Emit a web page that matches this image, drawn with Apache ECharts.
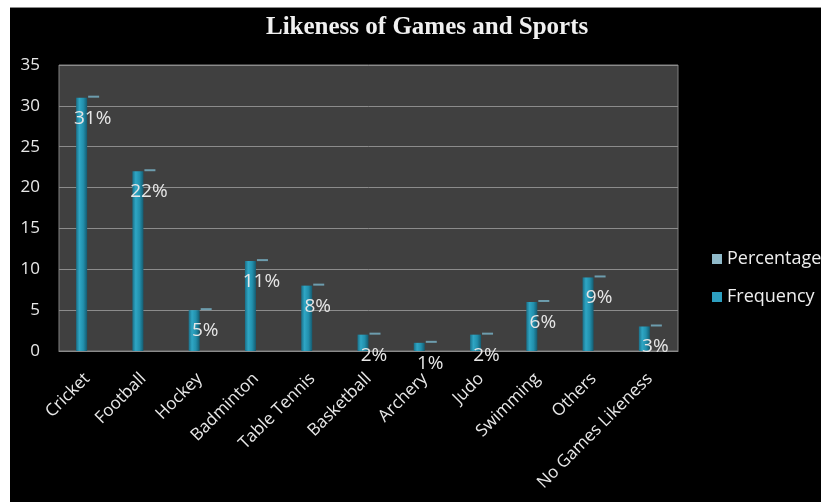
<!DOCTYPE html>
<html>
<head>
<meta charset="utf-8">
<script src="https://cdn.jsdelivr.net/npm/echarts@6/dist/echarts.min.js"></script>
<style>
	html, body { margin: 0; padding: 0; background: #ffffff; }
	#wrap { position: absolute; left: 10px; top: 7px; width: 811px; height: 495px; background: #000; border-top: 1px solid #8a8a8a; box-sizing: border-box; }
	#chart { width: 811px; height: 494px; }
</style>
</head>
<body>
<div id="wrap"><div id="chart"></div></div>
<script>
var categories = ["Cricket", "Football", "Hockey", "Badminton", "Table Tennis", "Basketball", "Archery", "Judo", "Swimming", "Others", "No Games Likeness"];
var frequency = [31, 22, 5, 11, 8, 2, 1, 2, 6, 9, 3];
var percentage = [31, 22, 5, 11, 8, 2, 1, 2, 6, 9, 3]; // in %
var yTicks = [0, 5, 10, 15, 20, 25, 30, 35];

var capData = [];
for (var i = 0; i < categories.length; i++) {
	capData.push([i, percentage[i]]);
}

var barColor = {
	type: 'linear', x: 0, y: 0, x2: 1, y2: 0,
	colorStops: [
		{ offset: 0, color: '#1a7089' },
		{ offset: 0.3, color: '#2fa6c4' },
		{ offset: 0.65, color: '#2290ad' },
		{ offset: 1, color: '#155b70' }
	]
};

var chart = echarts.init(document.getElementById('chart'));
chart.setOption({
	animation: false,
	backgroundColor: '#000',
	textStyle: { fontFamily: 'Open Sans' },
	title: {
		text: 'Likeness of Games and Sports',
		left: 251,
		top: 2,
		textStyle: { color: '#f0f0f0', fontFamily: 'Liberation Serif', fontWeight: 'bold', fontSize: 25 }
	},
	legend: {
		orient: 'vertical',
		left: 697,
		top: 237,
		itemWidth: 10,
		itemHeight: 10,
		itemGap: 20,
		textStyle: { color: '#eeeeee', fontSize: 18 },
		data: [
			{ name: 'Percentage', icon: 'rect', itemStyle: { color: '#8fb9c9' } },
			{ name: 'Frequency', icon: 'rect', itemStyle: { color: '#2d9fc0' } }
		]
	},
	grid: {
		left: 49, top: 57, right: 143, bottom: 151,
		show: true,
		backgroundColor: '#404040',
		borderColor: '#808080',
		borderWidth: 1
	},
	xAxis: {
		type: 'category',
		data: categories,
		axisTick: { show: false },
		axisLine: { lineStyle: { color: '#8a8a8a' } },
		axisLabel: { color: '#e8e8e8', fontSize: 17, rotate: 45, margin: 25, interval: 0 }
	},
	yAxis: {
		type: 'value',
		min: yTicks[0],
		max: yTicks[yTicks.length - 1],
		interval: 5,
		axisLine: { show: false },
		axisTick: { show: false },
		axisLabel: { color: '#e8e8e8', fontSize: 17, margin: 19 },
		splitLine: { lineStyle: { color: '#8c8c8c' } }
	},
	series: [
		{
			name: 'Frequency',
			type: 'bar',
			data: frequency,
			barWidth: 11,
			barGap: '0%',
			itemStyle: { color: barColor }
		},
		{
			name: 'Percentage',
			type: 'bar',
			data: percentage,
			barWidth: 11,
			itemStyle: { color: 'rgba(0,0,0,0)' },
			label: {
				show: true,
				position: 'insideTop',
				distance: 11,
				color: '#e6e6e6',
				fontSize: 19,
				formatter: function (p) { return p.value + '%'; }
			},
			z: 5
		},
		{
			name: 'Percentage',
			type: 'custom',
			data: capData,
			encode: { x: 0, y: 1 },
			renderItem: function (params, api) {
				var pt = api.coord([api.value(0), api.value(1)]);
				return {
					type: 'rect',
					shape: { x: pt[0] + 1, y: pt[1] - 2, width: 11, height: 2 },
					style: { fill: '#6d9dae' }
				};
			},
			z: 4
		}
	]
});
</script>
</body>
</html>
